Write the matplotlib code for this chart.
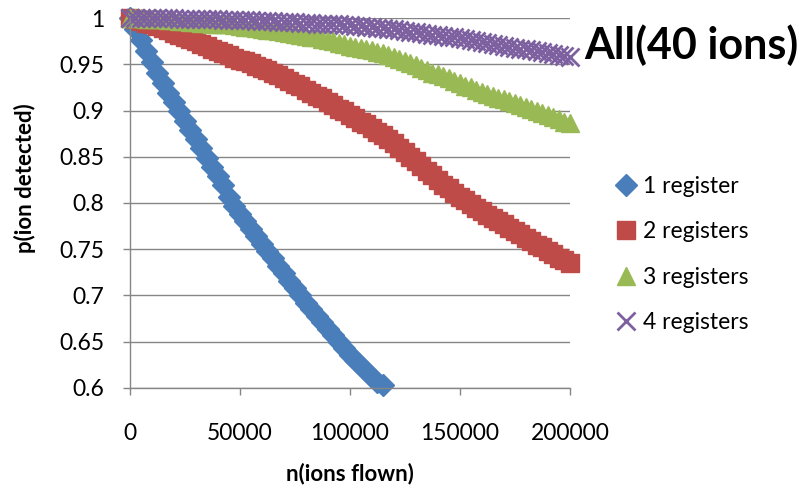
import matplotlib
matplotlib.use("Agg")
import matplotlib.pyplot as plt

plt.rcParams['font.family'] = ['Lato', 'DejaVu Sans']

# ions flown (x) and detection probability (y)
n_1reg = [0, 2500, 5000, 7500, 10000, 12500, 15000, 17500, 20000, 22500,
          25000, 27500, 30000, 32500, 35000, 37500, 40000, 42500, 45000, 47500,
          50000, 52500, 55000, 57500, 60000, 62500, 65000, 67500, 70000, 72500,
          75000, 77500, 80000, 82500, 85000, 87500, 90000, 92500, 95000, 97500,
          100000, 102500, 105000, 107500, 110000, 112500, 115000]
p_1reg = [1.000, 0.988, 0.976, 0.964, 0.952, 0.941, 0.930, 0.919, 0.909, 0.899,
          0.889, 0.879, 0.869, 0.859, 0.849, 0.839, 0.829, 0.819, 0.806, 0.797,
          0.788, 0.780, 0.772, 0.764, 0.756, 0.748, 0.740, 0.732, 0.724, 0.716,
          0.708, 0.700, 0.692, 0.685, 0.678, 0.671, 0.664, 0.657, 0.650, 0.643,
          0.636, 0.630, 0.624, 0.618, 0.612, 0.607, 0.603]

n_multi = [0, 2500, 5000, 7500, 10000, 12500, 15000, 17500, 20000, 22500,
           25000, 27500, 30000, 32500, 35000, 37500, 40000, 42500, 45000, 47500,
           50000, 52500, 55000, 57500, 60000, 62500, 65000, 67500, 70000, 72500,
           75000, 77500, 80000, 82500, 85000, 87500, 90000, 92500, 95000, 97500,
           100000, 102500, 105000, 107500, 110000, 112500, 115000, 117500, 120000, 122500,
           125000, 127500, 130000, 132500, 135000, 137500, 140000, 142500, 145000, 147500,
           150000, 152500, 155000, 157500, 160000, 162500, 165000, 167500, 170000, 172500,
           175000, 177500, 180000, 182500, 185000, 187500, 190000, 192500, 195000, 197500,
           200000]
p_2reg = [1.000, 0.999, 0.997, 0.995, 0.993, 0.991, 0.989, 0.987, 0.984, 0.982,
          0.980, 0.977, 0.975, 0.972, 0.970, 0.967, 0.964, 0.962, 0.960, 0.957,
          0.955, 0.953, 0.951, 0.948, 0.946, 0.944, 0.941, 0.938, 0.935, 0.932,
          0.929, 0.926, 0.922, 0.919, 0.916, 0.913, 0.909, 0.906, 0.902, 0.899,
          0.895, 0.892, 0.888, 0.885, 0.881, 0.877, 0.873, 0.869, 0.865, 0.860,
          0.855, 0.850, 0.845, 0.840, 0.835, 0.830, 0.825, 0.820, 0.816, 0.811,
          0.807, 0.803, 0.799, 0.795, 0.791, 0.787, 0.784, 0.780, 0.777, 0.773,
          0.770, 0.766, 0.762, 0.759, 0.755, 0.752, 0.748, 0.745, 0.741, 0.738,
          0.735]
p_3reg = [1.000, 1.000, 1.000, 0.999, 0.999, 0.999, 0.999, 0.998, 0.998, 0.997,
          0.997, 0.996, 0.996, 0.995, 0.995, 0.994, 0.994, 0.993, 0.993, 0.992,
          0.991, 0.990, 0.990, 0.989, 0.988, 0.987, 0.987, 0.986, 0.985, 0.984,
          0.983, 0.982, 0.981, 0.980, 0.979, 0.977, 0.976, 0.975, 0.973, 0.972,
          0.970, 0.969, 0.968, 0.966, 0.965, 0.963, 0.962, 0.960, 0.958, 0.956,
          0.954, 0.951, 0.949, 0.946, 0.944, 0.941, 0.939, 0.937, 0.935, 0.932,
          0.930, 0.927, 0.925, 0.922, 0.920, 0.918, 0.916, 0.914, 0.912, 0.910,
          0.908, 0.906, 0.904, 0.902, 0.900, 0.897, 0.895, 0.893, 0.891, 0.888,
          0.886]
p_4reg = [1.000, 1.000, 1.000, 1.000, 1.000, 1.000, 1.000, 1.000, 1.000, 0.999,
          0.999, 0.999, 0.999, 0.999, 0.999, 0.999, 0.999, 0.998, 0.998, 0.998,
          0.998, 0.998, 0.998, 0.997, 0.997, 0.997, 0.997, 0.996, 0.996, 0.996,
          0.996, 0.995, 0.995, 0.995, 0.994, 0.994, 0.994, 0.993, 0.993, 0.992,
          0.992, 0.991, 0.991, 0.990, 0.990, 0.989, 0.989, 0.988, 0.988, 0.987,
          0.986, 0.985, 0.985, 0.984, 0.983, 0.982, 0.982, 0.981, 0.980, 0.979,
          0.978, 0.977, 0.976, 0.975, 0.974, 0.973, 0.972, 0.971, 0.970, 0.969,
          0.968, 0.967, 0.966, 0.965, 0.964, 0.963, 0.962, 0.961, 0.960, 0.959,
          0.958]

labels = ['1 register', '2 registers', '3 registers', '4 registers']
x_ticks = [0, 50000, 100000, 150000, 200000]
y_ticks = [0.6, 0.65, 0.7, 0.75, 0.8, 0.85, 0.9, 0.95, 1]
y_ticklabels = ['0.6', '0.65', '0.7', '0.75', '0.8', '0.85', '0.9', '0.95', '1']

fig = plt.figure(figsize=(8.06, 4.92), dpi=100)
ax = fig.add_axes([0.1607, 0.2114, 0.5465, 0.752])

grid_c = '#868686'
ax.plot(n_1reg, p_1reg, ls='none', marker='D', ms=11.5, color='#4A7EBB',
        mec='#4A7EBB', label=labels[0], clip_on=False)
ax.plot(n_multi, p_2reg, ls='none', marker='s', ms=13, color='#BE4B48',
        mec='#BE4B48', label=labels[1], clip_on=False)
ax.plot(n_multi, p_3reg, ls='none', marker='^', ms=13, color='#98B954',
        mec='#98B954', label=labels[2], clip_on=False)
ax.plot(n_multi, p_4reg, ls='none', marker='x', ms=13, mew=2, color='#7D60A0',
        label=labels[3], clip_on=False)

ax.set_xlim(0, 200000)
ax.set_ylim(0.6, 1)
ax.set_xticks(x_ticks)
ax.set_xticklabels([str(v) for v in x_ticks])
ax.set_yticks(y_ticks)
ax.set_yticklabels(y_ticklabels)
ax.grid(axis='y', color=grid_c, lw=1)
ax.set_axisbelow(True)
for s in ['top', 'right']:
    ax.spines[s].set_visible(False)
for s in ['left', 'bottom']:
    ax.spines[s].set_color(grid_c)
    ax.spines[s].set_linewidth(1)
ax.tick_params(axis='both', direction='out', length=5, width=1, color=grid_c,
               labelsize=16.5, labelcolor='black')
ax.tick_params(axis='y', pad=13)
ax.tick_params(axis='x', pad=20)

fig.text(25 / 806, 1 - 178 / 492, 'p(ion detected)', rotation=90, fontsize=16,
         fontweight='bold', ha='center', va='center')
fig.text(350 / 806, 1 - 474 / 492, 'n(ions flown)', fontsize=16,
         fontweight='bold', ha='center', va='center')
fig.text(584 / 806, 1 - 45 / 492, 'All(40 ions)', fontsize=31,
         fontweight='bold', ha='left', va='center')

fig.legend(loc='center left', bbox_to_anchor=(617 / 806, 1 - 254.5 / 492),
           frameon=False, fontsize=16.5, handlelength=0.8, handletextpad=0.35,
           labelspacing=1.05, borderpad=0, borderaxespad=0, numpoints=1)

plt.savefig('out.png', dpi=100)
